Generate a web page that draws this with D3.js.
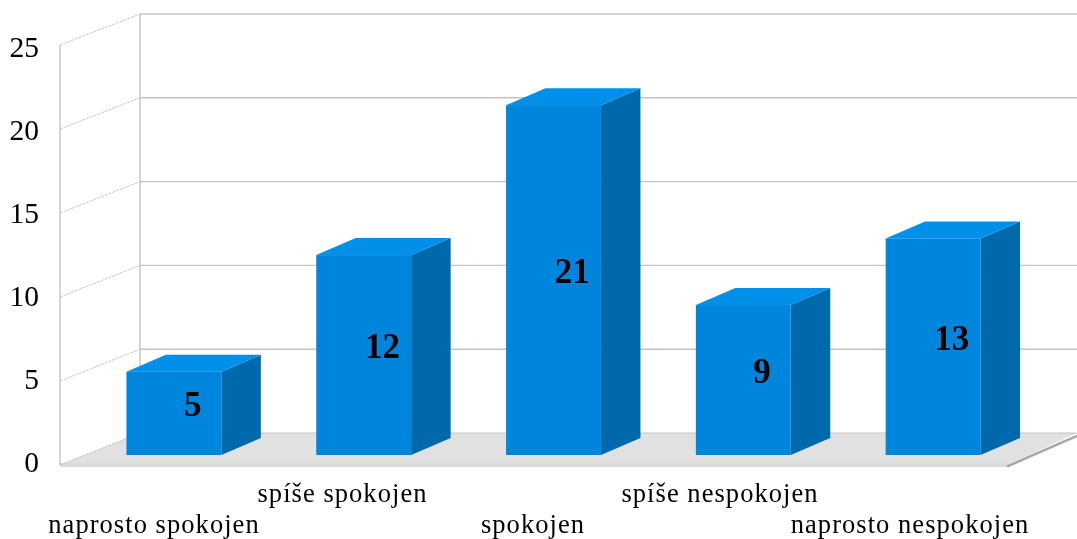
<!DOCTYPE html>
<html><head><meta charset="utf-8"><script src="https://cdn.jsdelivr.net/npm/d3@7"></script>
<style>html,body{margin:0;padding:0;background:#fff}svg{display:block;filter:blur(0.45px)}text{font-family:"Liberation Serif",serif;fill:#000}</style></head>
<body><svg id="c" width="1077" height="539"></svg>
<script>
const categories=["naprosto spokojen","spíše spokojen","spokojen","spíše nespokojen","naprosto nespokojen"];
const values=[5,12,21,9,13];
const yTicks=[0,5,10,15,20,25];
const labelRows=[1,0,1,0,1];
const labelCenters=[154,342.5,533,720,910];

const svg=d3.select("#c");
const wall=d3.scaleLinear().domain([0,25]).range([433,14]);
const side=d3.scaleLinear().domain([0,25]).range([465,45]);
const tickY=d3.scaleLinear().domain([0,25]).range([472,57]);
const barY=d3.scaleLinear().domain([0,25]).range([455,38.5]);
const x=d3.scaleBand().domain(categories).range([79,1028]).paddingInner(0.5).paddingOuter(0.25);
const line=d3.line();
const poly=p=>"M"+p.join("L")+"Z";
const fx=60,bx=140,rightX=1077,floorR=1007;
const dpx=39.5,dpy=17;

// floor
svg.append("path").attr("d",poly([[fx,side(0)],[bx,wall(0)],[rightX,wall(0)],[floorR,side(0)]])).attr("fill","#e1e1e1");
svg.append("rect").attr("x",fx).attr("y",side(0)-2).attr("width",floorR-fx).attr("height",4).attr("fill","#dcdcdc");
svg.append("path").attr("d",line([[floorR,side(0)+1.5],[rightX,wall(0)+3]])).attr("stroke","#a8a8a8").attr("stroke-width",2.5).attr("fill","none");

// walls
const g=svg.append("g").attr("fill","none").attr("stroke","#c4c4c4");
yTicks.forEach(t=>{
  g.append("path").attr("d",line([[bx,wall(t)],[rightX,wall(t)]])).attr("stroke-width",t===0?1:1.4);
  g.append("path").attr("d",line([[fx,side(t)],[bx,wall(t)]])).attr("stroke-width",1).attr("stroke-dasharray","3 1");
});
g.append("path").attr("d",line([[fx,side(0)],[fx,side(25)]])).attr("stroke-width",1.4);
g.append("path").attr("d",line([[bx,wall(0)],[bx,wall(25)]])).attr("stroke-width",1.4);

// tick labels
svg.selectAll(".yt").data(yTicks).join("text").attr("class","yt")
  .attr("x",39).attr("y",d=>tickY(d)).attr("text-anchor","end")
  .attr("font-size",29.5).text(d=>d);

// bars
const b=svg.selectAll(".bar").data(values).join("g").attr("class","bar");
const bw=x.bandwidth();
b.append("path").attr("fill","#0069ab").attr("d",(d,i)=>{const l=x(categories[i])+bw;return poly([[l,barY(0)],[l+dpx,barY(0)-dpy],[l+dpx,barY(d)-dpy],[l,barY(d)]]);});
b.append("path").attr("fill","#0090ea").attr("d",(d,i)=>{const l=x(categories[i]);return poly([[l,barY(d)],[l+dpx,barY(d)-dpy],[l+bw+dpx,barY(d)-dpy],[l+bw,barY(d)]]);});
b.append("rect").attr("fill","#0085dc").attr("x",(d,i)=>x(categories[i])).attr("y",d=>barY(d)).attr("width",bw).attr("height",d=>barY(0)-barY(d));
b.append("text").attr("text-anchor","middle").attr("font-weight","bold").attr("font-size",35)
  .attr("x",(d,i)=>x(categories[i])+bw/2+dpx/2-1)
  .attr("y",d=>(barY(d)+barY(0))/2-dpy/2+11.5).text(d=>d);

// category labels
svg.selectAll(".cat").data(categories).join("text").attr("class","cat")
  .attr("text-anchor","middle").attr("font-size",26.5).attr("letter-spacing",1.05)
  .attr("x",(d,i)=>labelCenters[i]).attr("y",(d,i)=>labelRows[i]?532.5:502).text(d=>d);
</script></body></html>
